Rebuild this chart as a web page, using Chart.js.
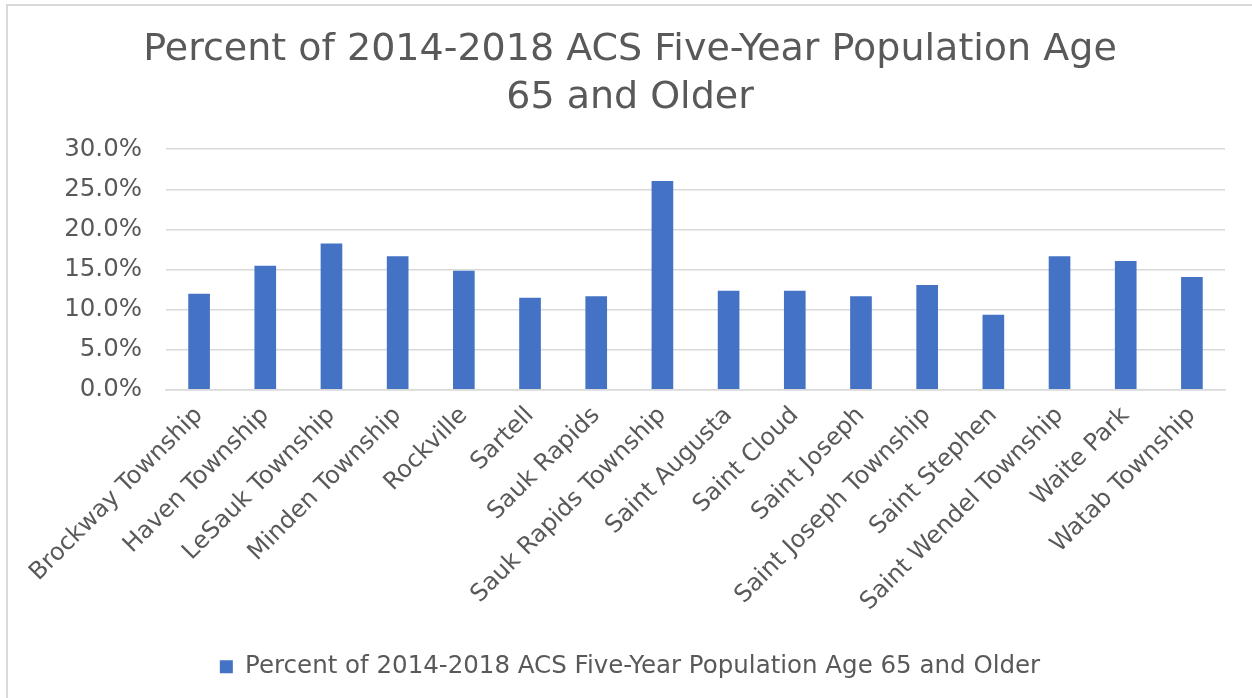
<!DOCTYPE html>
<html>
<head>
<meta charset="utf-8">
<script src="https://cdn.jsdelivr.net/npm/chart.js@4.4.1/dist/chart.umd.min.js"></script>
<style>
  html, body { margin: 0; padding: 0; background: #fff; overflow: hidden; }
  #wrap { position: relative; width: 1252px; height: 698px; }
  #marco { position: absolute; left: 6px; top: 4px; width: 1300px; height: 800px;
           border-top: 2px solid #d9d9d9; border-left: 2px solid #d9d9d9; pointer-events: none; }
</style>
</head>
<body>
<div id="wrap">
  <canvas id="grafico" width="1252" height="698"></canvas>
  <div id="marco"></div>
</div>
<script>
// ================================================================
//  DATOS
// ================================================================
const lugares = [
    'Brockway Township', 'Haven Township', 'LeSauk Township', 'Minden Township',
    'Rockville', 'Sartell', 'Sauk Rapids', 'Sauk Rapids Township',
    'Saint Augusta', 'Saint Cloud', 'Saint Joseph', 'Saint Joseph Township',
    'Saint Stephen', 'Saint Wendel Township', 'Waite Park', 'Watab Township'
];
const porcentaje65 = [11.9, 15.4, 18.2, 16.6, 14.8, 11.4, 11.6, 26.0, 12.3, 12.3, 11.6, 13.0, 9.3, 16.6, 16.0, 14.0];
const etiquetasY = ['0.0%', '5.0%', '10.0%', '15.0%', '20.0%', '25.0%', '30.0%'];
const nombreSerie = 'Percent of 2014-2018 ACS Five-Year Population Age 65 and Older';
const titulo = ['Percent of 2014-2018 ACS Five-Year Population Age', '65 and Older'];

const gris = '#595959';
const fuente = 'Verdana, "DejaVu Sans", sans-serif';

// ================================================================
//  GRÁFICO
// ================================================================
new Chart(document.getElementById('grafico').getContext('2d'), {
    type: 'bar',
    data: {
        labels: lugares,
        datasets: [{
            label: nombreSerie,
            data: porcentaje65,
            backgroundColor: '#4472c4',
            borderWidth: 0,
            barThickness: 21
        }]
    },
    options: {
        responsive: false,
        animation: false,
        layout: { padding: { left: 35, right: 27, top: 0, bottom: 9 } },
        plugins: {
            title: {
                display: true,
                text: titulo,
                color: gris,
                font: { family: fuente, size: 38, weight: 'normal', lineHeight: 1.24 },
                padding: { top: 27, bottom: 28 }
            },
            legend: {
                position: 'bottom',
                labels: {
                    color: gris,
                    boxWidth: 13,
                    boxHeight: 13,
                    padding: 10,
                    font: { family: fuente, size: 24.5 }
                }
            },
            tooltip: { enabled: false }
        },
        scales: {
            y: {
                min: 0,
                max: 30,
                afterFit: (eje) => { eje.width = 131; },
                ticks: {
                    stepSize: 5,
                    padding: 24,
                    color: gris,
                    font: { family: fuente, size: 24.5 },
                    callback: (v, i) => etiquetasY[i]
                },
                grid: { color: '#d9d9d9', lineWidth: 1.5, drawTicks: false },
                border: { display: false }
            },
            x: {
                afterFit: (eje) => { eje.height = 255; },
                ticks: {
                    autoSkip: false,
                    minRotation: 45,
                    maxRotation: 45,
                    padding: 4,
                    color: gris,
                    font: { family: fuente, size: 24 }
                },
                grid: { display: false },
                border: { color: '#d9d9d9', width: 1.5 }
            }
        }
    }
});
</script>
</body>
</html>
